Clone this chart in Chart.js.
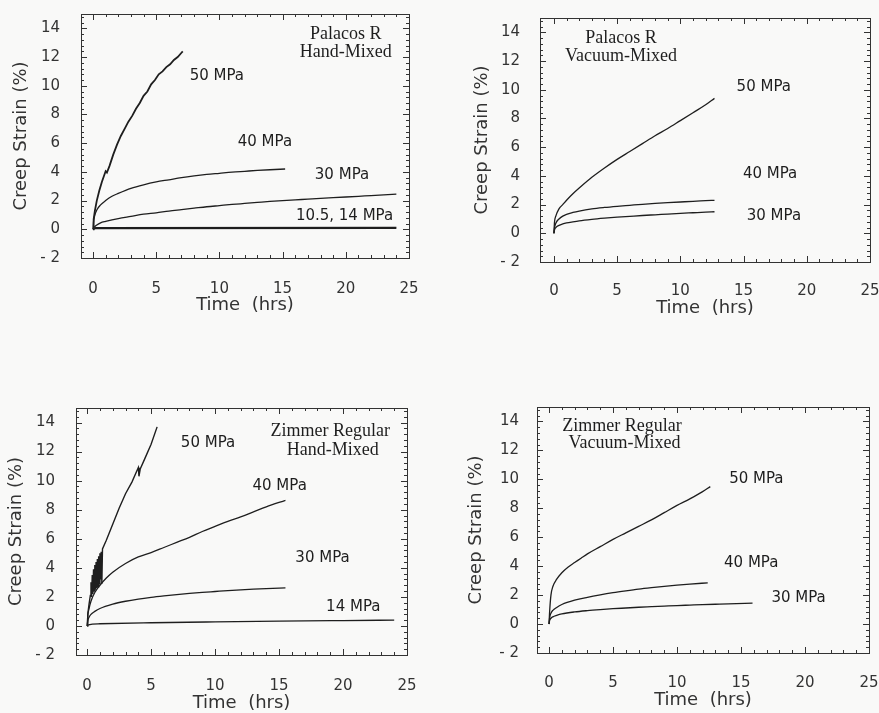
<!DOCTYPE html>
<html>
<head>
<meta charset="utf-8">
<script src="https://cdn.jsdelivr.net/npm/chart.js@4"></script>
<style>
    html, body { margin: 0; padding: 0; background: #f9f9f8; overflow: hidden; }
    body { width: 879px; height: 713px; position: relative; }
    canvas { position: absolute; }
</style>
</head>
<body>
<canvas id="prHand"></canvas>
<canvas id="prVac"></canvas>
<canvas id="zrHand"></canvas>
<canvas id="zrVac"></canvas>
<script>
// axis ticks
const xTicks = [0, 5, 10, 15, 20, 25];
const yTicks = [-2, 0, 2, 4, 6, 8, 10, 12, 14];
const xMinorStep = 1;
const yMinorStep = 0.4;

// [time (hrs), creep strain (%)]

// Palacos R, hand-mixed
const prHand50 = [[0,0],[0.05,0.7],[0.15,1.3],[0.3,2.0],[0.5,2.7],[0.7,3.3],[0.9,3.8],[1.0,4.05],[1.1,3.95],[1.3,4.4],[1.6,5.2],[1.9,5.9],[2.2,6.5],[2.5,7.0],[2.8,7.5],[3.1,7.9],[3.4,8.4],[3.7,8.8],[4.0,9.3],[4.3,9.6],[4.6,10.1],[4.9,10.4],[5.2,10.8],[5.5,11.0],[5.8,11.3],[6.1,11.5],[6.4,11.8],[6.7,12.0],[7.0,12.3],[7.1,12.4]];
const prHand40 = [[0,0],[0.05,0.6],[0.15,1.0],[0.3,1.35],[0.6,1.7],[1,2.0],[1.5,2.3],[2,2.5],[3,2.85],[4,3.1],[5,3.3],[6,3.45],[7,3.6],[8,3.72],[9,3.82],[10,3.9],[11,3.98],[12,4.04],[13,4.1],[14,4.15],[15.2,4.2]];
const prHand30 = [[0,0],[0.1,0.15],[0.3,0.3],[0.6,0.45],[1,0.55],[2,0.75],[3,0.9],[4,1.05],[5,1.15],[6,1.27],[7,1.37],[8,1.47],[9,1.57],[10,1.65],[11,1.73],[12,1.8],[13,1.87],[14,1.94],[15,2.0],[16,2.05],[17,2.1],[18,2.15],[19,2.2],[20,2.25],[21,2.3],[22,2.35],[23,2.4],[24,2.45]];
const prHand14 = [[0,0],[0.2,0.12],[24,0.14]];
const prHand105 = [[0,0],[0.2,0.05],[24,0.06]];

// Palacos R, vacuum-mixed
const prVac50 = [[0,0],[0.05,0.8],[0.15,1.2],[0.4,1.7],[0.7,2.0],[1,2.3],[1.5,2.75],[2,3.15],[3,3.9],[4,4.55],[5,5.15],[6,5.7],[7,6.25],[8,6.8],[9,7.3],[10,7.85],[11,8.4],[12,8.95],[12.7,9.4]];
const prVac40 = [[0,0],[0.05,0.4],[0.15,0.7],[0.4,1.0],[0.7,1.2],[1,1.32],[1.5,1.45],[2,1.55],[3,1.7],[4,1.8],[5,1.88],[6,1.95],[7,2.02],[8,2.08],[9,2.13],[10,2.18],[11,2.23],[12,2.27],[12.7,2.3]];
const prVac30 = [[0,0],[0.05,0.25],[0.15,0.4],[0.4,0.55],[0.7,0.65],[1,0.72],[1.5,0.8],[2,0.87],[3,0.97],[4,1.05],[5,1.12],[6,1.18],[7,1.24],[8,1.29],[9,1.34],[10,1.39],[11,1.43],[12,1.47],[12.7,1.5]];

// Zimmer Regular, hand-mixed
const zrHand50 = [[0,0],[0.05,0.8],[0.15,1.5],[0.25,2.1],[0.3,3.0],[0.35,2.0],[0.4,3.5],[0.45,2.2],[0.5,3.9],[0.55,2.4],[0.6,4.2],[0.65,2.5],[0.7,4.4],[0.75,2.6],[0.8,4.6],[0.85,2.7],[0.9,4.8],[0.95,2.9],[1.0,5.0],[1.05,3.2],[1.1,5.1],[1.15,2.9],[1.2,5.3],[1.5,5.9],[2,7.0],[2.5,8.1],[3,9.1],[3.5,9.9],[4,10.9],[4.05,10.3],[4.15,10.8],[4.5,11.5],[5,12.5],[5.47,13.7]];
const zrHand40 = [[0,0],[0.05,0.7],[0.15,1.2],[0.3,1.7],[0.6,2.3],[1,2.8],[1.5,3.3],[2,3.7],[3,4.3],[4,4.75],[5,5.05],[6,5.4],[7,5.75],[8,6.1],[9,6.5],[10,6.85],[11,7.2],[12,7.5],[13,7.85],[14,8.2],[15.5,8.65]];
const zrHand30 = [[0,0],[0.05,0.35],[0.15,0.6],[0.3,0.8],[0.6,1.0],[1,1.2],[2,1.5],[3,1.7],[4,1.85],[5,1.97],[6,2.07],[7,2.16],[8,2.24],[9,2.31],[10,2.37],[11,2.43],[12,2.48],[13,2.53],[14,2.57],[15.5,2.62]];
const zrHand14 = [[0,0],[0.1,0.08],[1,0.15],[5,0.22],[10,0.28],[15,0.33],[20,0.37],[24,0.4]];

// Zimmer Regular, vacuum-mixed
const zrVac50 = [[0,0],[0.05,0.9],[0.15,2.0],[0.3,2.6],[0.6,3.1],[1,3.55],[1.5,3.95],[2,4.25],[2.5,4.55],[3,4.85],[4,5.35],[5,5.85],[6,6.3],[7,6.75],[8,7.2],[9,7.7],[10,8.2],[11,8.65],[12,9.15],[12.6,9.5]];
const zrVac40 = [[0,0],[0.05,0.45],[0.15,0.75],[0.3,0.95],[0.6,1.15],[1,1.35],[2,1.65],[3,1.85],[4,2.02],[5,2.17],[6,2.3],[7,2.42],[8,2.52],[9,2.61],[10,2.69],[11,2.76],[12.4,2.85]];
const zrVac30 = [[0,0],[0.05,0.25],[0.15,0.4],[0.3,0.5],[0.6,0.6],[1,0.7],[2,0.84],[3,0.93],[4,1.0],[5,1.06],[6,1.11],[7,1.16],[8,1.2],[9,1.24],[10,1.28],[11,1.31],[12,1.34],[13,1.37],[14,1.4],[15.9,1.45]];

const INK = "#1e1e1e";
const AXIS = "#333";

Chart.defaults.font.family = '"DejaVu Sans", sans-serif';
Chart.defaults.color = AXIS;

// box frame with inward ticks on all four sides
const frameTicks = {
    id: "frameTicks",
    afterDraw(chart) {
        const { ctx, chartArea: a, scales: { x, y } } = chart;
        ctx.save();
        ctx.strokeStyle = AXIS;
        ctx.lineWidth = 1;
        ctx.strokeRect(Math.round(a.left) + 0.5, Math.round(a.top) + 0.5,
            Math.round(a.right - a.left), Math.round(a.bottom - a.top));
        ctx.beginPath();
        for (let v = 0; v <= x.max + 1e-6; v += xMinorStep) {
            if (v < x.min) continue;
            const px = Math.round(x.getPixelForValue(v)) + 0.5;
            const len = v % 5 === 0 ? 6 : 3;
            ctx.moveTo(px, a.bottom); ctx.lineTo(px, a.bottom - len);
            ctx.moveTo(px, a.top); ctx.lineTo(px, a.top + len);
        }
        for (let i = 0; ; i++) {
            const v = y.min + i * yMinorStep;
            if (v > y.max + 1e-6) break;
            const py = Math.round(y.getPixelForValue(v)) + 0.5;
            const major = Math.abs(v / 2 - Math.round(v / 2)) < 1e-6;
            const len = major ? 6 : 3;
            ctx.moveTo(a.left, py); ctx.lineTo(a.left + len, py);
            ctx.moveTo(a.right, py); ctx.lineTo(a.right - len, py);
        }
        ctx.stroke();
        ctx.restore();
    }
};

function makeNotes(items) {
    return {
        id: "notes",
        afterDatasetsDraw(chart) {
            const { ctx, scales: { x, y } } = chart;
            ctx.save();
            ctx.fillStyle = INK;
            ctx.textAlign = "center";
            ctx.textBaseline = "middle";
            items.forEach(n => {
                ctx.font = n.serif ? '18px "Liberation Serif", serif' : '15px "DejaVu Sans", sans-serif';
                ctx.fillText(n.text, x.getPixelForValue(n.x), y.getPixelForValue(n.y));
            });
            ctx.restore();
        }
    };
}

function buildPanel(p) {
    const canvas = document.getElementById(p.id);
    const f = p.frame;
    const top = f.top - 30;
    const bottom = Math.ceil(p.xTitleY + 15);
    const padLeft = Math.round(p.yTitleX - 14) - p.left;

    canvas.width = p.width;
    canvas.height = bottom - top;
    canvas.style.left = p.left + "px";
    canvas.style.top = top + "px";
    canvas.style.width = p.width + "px";
    canvas.style.height = (bottom - top) + "px";

    new Chart(canvas, {
        type: "line",
        data: {
            datasets: p.series.map(s => ({
                data: s.points.map(([t, v]) => ({ x: t, y: v })),
                borderColor: INK,
                borderWidth: s.width || 1.3,
                pointRadius: 0,
                tension: 0,
                cubicInterpolationMode: s.jagged ? "default" : "monotone"
            }))
        },
        options: {
            responsive: false,
            animation: false,
            layout: {
                padding: { left: padLeft, top: 30, right: p.left + p.width - f.right, bottom: 0 }
            },
            plugins: {
                legend: { display: false },
                tooltip: { enabled: false }
            },
            scales: {
                x: {
                    type: "linear",
                    min: p.xMin,
                    max: 25,
                    grid: { display: false },
                    border: { display: false },
                    afterBuildTicks: s => { s.ticks = xTicks.map(v => ({ value: v })); },
                    afterFit: s => { s.height = bottom - f.bottom; },
                    ticks: {
                        padding: p.xLabelY - f.bottom - 9,
                        font: { size: 15 },
                        maxRotation: 0
                    },
                    title: {
                        display: true,
                        text: "Time  (hrs)",
                        font: { size: 18 },
                        padding: { top: 0, bottom: 4 }
                    }
                },
                y: {
                    type: "linear",
                    min: -2,
                    max: 15,
                    grid: { display: false },
                    border: { display: false },
                    afterBuildTicks: s => { s.ticks = yTicks.map(v => ({ value: v })); },
                    afterFit: s => { s.width = f.left - p.left - padLeft; },
                    ticks: {
                        padding: f.left - p.yLabelRight,
                        font: { size: 15 },
                        callback: v => (v < 0 ? "- " + Math.abs(v) : String(v))
                    },
                    title: {
                        display: true,
                        text: "Creep Strain (%)",
                        font: { size: 18 },
                        padding: { top: 3, bottom: 0 }
                    }
                }
            }
        },
        plugins: [frameTicks, makeNotes(p.notes)]
    });
}

buildPanel({
    id: "prHand", left: 0, width: 440, xMin: -0.95,
    frame: { left: 81, top: 14, right: 409, bottom: 258 },
    yTitleX: 22, yLabelRight: 68, xLabelY: 281, xTitleY: 305,
    series: [
        { points: prHand50, jagged: true, width: 1.8 },
        { points: prHand40 },
        { points: prHand30 },
        { points: prHand14, jagged: true, width: 1.2 },
        { points: prHand105, jagged: true, width: 1.2 }
    ],
    notes: [
        { text: "Palacos R", x: 20, y: 13.6, serif: true },
        { text: "Hand-Mixed", x: 20, y: 12.3, serif: true },
        { text: "50 MPa", x: 9.8, y: 10.7 },
        { text: "40 MPa", x: 13.6, y: 6.1 },
        { text: "30 MPa", x: 19.7, y: 3.8 },
        { text: "10.5, 14 MPa", x: 19.9, y: 0.9 }
    ]
});

buildPanel({
    id: "prVac", left: 440, width: 460, xMin: -1.1,
    frame: { left: 540, top: 18, right: 870, bottom: 262 },
    yTitleX: 483, yLabelRight: 528, xLabelY: 283, xTitleY: 308,
    series: [
        { points: prVac50 },
        { points: prVac40 },
        { points: prVac30 }
    ],
    notes: [
        { text: "Palacos R", x: 5.3, y: 13.6, serif: true },
        { text: "Vacuum-Mixed", x: 5.3, y: 12.3, serif: true },
        { text: "50 MPa", x: 16.6, y: 10.2 },
        { text: "40 MPa", x: 17.1, y: 4.15 },
        { text: "30 MPa", x: 17.4, y: 1.2 }
    ]
});

buildPanel({
    id: "zrHand", left: 0, width: 440, xMin: -0.87,
    frame: { left: 76, top: 408, right: 407, bottom: 655 },
    yTitleX: 17, yLabelRight: 63, xLabelY: 678, xTitleY: 703,
    series: [
        { points: zrHand50, jagged: true, width: 1.4 },
        { points: zrHand40 },
        { points: zrHand30 },
        { points: zrHand14 }
    ],
    notes: [
        { text: "Zimmer Regular", x: 19.0, y: 13.4, serif: true },
        { text: "Hand-Mixed", x: 19.2, y: 12.1, serif: true },
        { text: "50 MPa", x: 9.45, y: 12.6 },
        { text: "40 MPa", x: 15.05, y: 9.65 },
        { text: "30 MPa", x: 18.4, y: 4.7 },
        { text: "14 MPa", x: 20.8, y: 1.3 }
    ]
});

buildPanel({
    id: "zrVac", left: 440, width: 460, xMin: -0.94,
    frame: { left: 537, top: 407, right: 869, bottom: 653 },
    yTitleX: 477, yLabelRight: 527, xLabelY: 675, xTitleY: 700,
    series: [
        { points: zrVac50 },
        { points: zrVac40 },
        { points: zrVac30 }
    ],
    notes: [
        { text: "Zimmer Regular", x: 5.7, y: 13.7, serif: true },
        { text: "Vacuum-Mixed", x: 5.9, y: 12.5, serif: true },
        { text: "50 MPa", x: 16.2, y: 10.0 },
        { text: "40 MPa", x: 15.8, y: 4.2 },
        { text: "30 MPa", x: 19.5, y: 1.8 }
    ]
});
</script>
</body>
</html>
